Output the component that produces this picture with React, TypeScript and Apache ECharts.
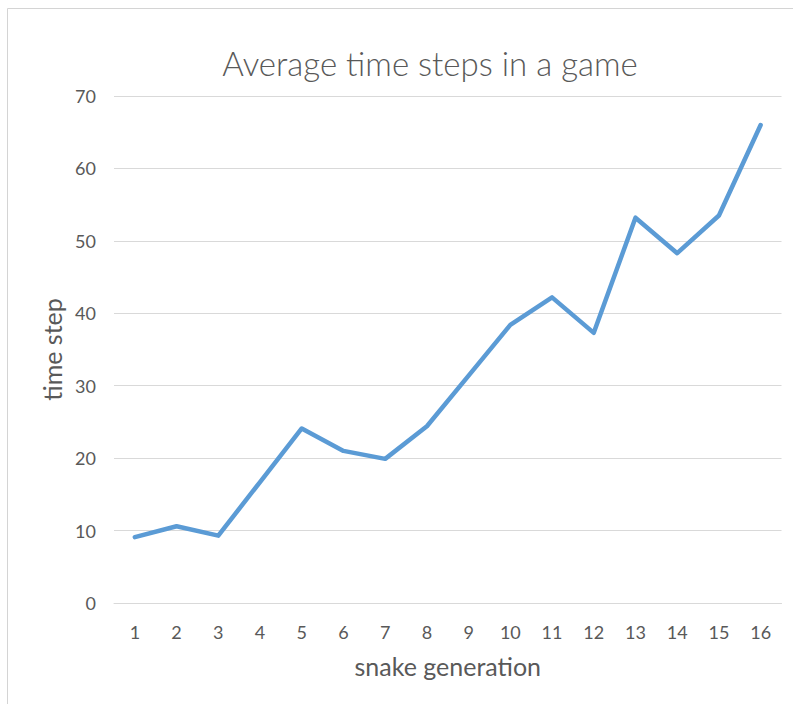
import React, { useEffect, useRef } from "react";
import * as echarts from "echarts";

// Snake generations on the x axis
const generations = ["1", "2", "3", "4", "5", "6", "7", "8", "9", "10", "11", "12", "13", "14", "15", "16"];
// Average number of time steps survived per game
const avgTimeSteps = [9.1, 10.6, 9.3, 16.7, 24.1, 21.0, 19.9, 24.4, 31.4, 38.4, 42.2, 37.3, 53.2, 48.3, 53.5, 66.0];

const FONT = "Lato, 'Open Sans', 'Noto Sans', sans-serif";
const TEXT = "#595959";
const GRID = "#D9D9D9";

export default function App() {
  const ref = useRef<HTMLDivElement>(null);

  useEffect(() => {
    if (!ref.current) return;
    const chart = echarts.init(ref.current, undefined, { renderer: "svg" });
    chart.setOption({
      animation: false,
      backgroundColor: "#ffffff",
      title: {
        text: "Average time steps in a game",
        left: 425,
        top: 41,
        textAlign: "center",
        textStyle: { fontFamily: FONT, fontSize: 33, fontWeight: 300, color: TEXT },
      },
      graphic: [
        {
          type: "rect",
          silent: true,
          shape: { x: 7.5, y: 8.5, width: 900, height: 900 },
          style: { fill: "none", stroke: "#D4D4D4", lineWidth: 1 },
        },
      ],
      grid: { left: 114, right: 11.5, top: 96, bottom: 101 },
      xAxis: {
        type: "category",
        data: generations,
        boundaryGap: true,
        name: "snake generation",
        nameLocation: "middle",
        nameGap: 50,
        nameTextStyle: { fontFamily: FONT, fontSize: 25, color: TEXT },
        axisLine: { show: true, lineStyle: { color: GRID, width: 1 } },
        axisTick: { show: false },
        axisLabel: { fontFamily: FONT, fontSize: 18, color: TEXT, margin: 20 },
      },
      yAxis: {
        type: "value",
        min: 0,
        max: 70,
        interval: 10,
        name: "time step",
        nameLocation: "middle",
        nameGap: 49,
        nameTextStyle: { fontFamily: FONT, fontSize: 25, color: TEXT },
        axisLine: { show: false },
        axisTick: { show: false },
        axisLabel: { fontFamily: FONT, fontSize: 18, color: TEXT, margin: 18 },
        splitLine: { show: true, lineStyle: { color: GRID, width: 1 } },
      },
      series: [
        {
          type: "line",
          data: avgTimeSteps,
          showSymbol: false,
          symbol: "none",
          lineStyle: { color: "#5B9BD5", width: 4.5, cap: "round", join: "round" },
        },
      ],
    });
    return () => chart.dispose();
  }, []);

  return (
    <div
      ref={ref}
      style={{ position: "absolute", left: 0, top: 0, width: 793, height: 704 }}
    />
  );
}
